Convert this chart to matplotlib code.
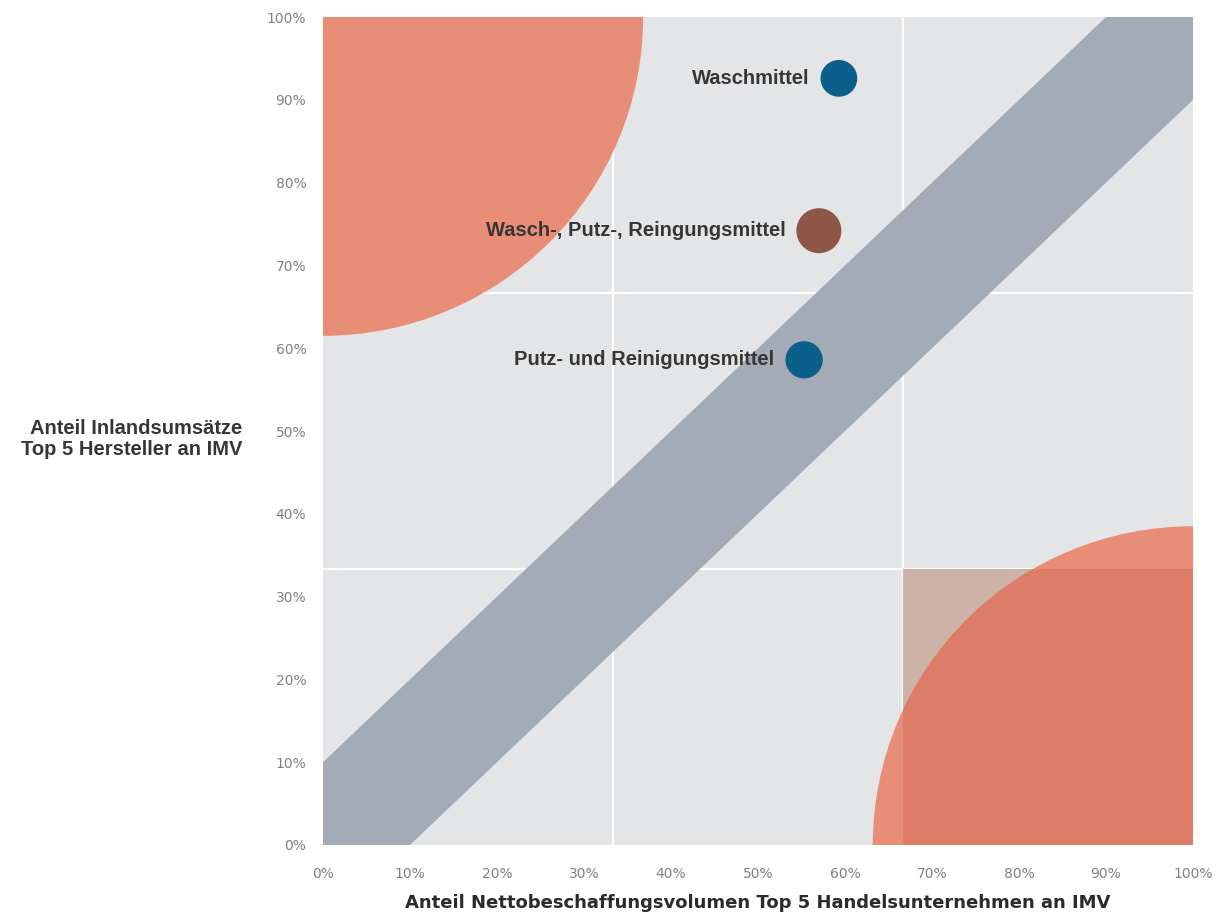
import matplotlib
matplotlib.use('Agg')
from matplotlib import pyplot as plt
from matplotlib.patches import Ellipse, Rectangle
import numpy as np

# data (percent)
names = ['Waschmittel', 'Wasch-, Putz-, Reingungsmittel', 'Putz- und Reinigungsmittel']
x_share = [59.3, 57.0, 55.3]
y_share = [92.6, 74.2, 58.6]
dot_colors = ['#0b5f8a', '#8d5646', '#0b5f8a']
dot_sizes = [700, 1050, 720]

ticks = [0, 10, 20, 30, 40, 50, 60, 70, 80, 90, 100]
tick_labels = [f'{t}%' for t in ticks]
grid_lines = [100 / 3, 200 / 3]
band_half = 10
corner_r_x = 36.8
corner_r_y = 38.5

bg = '#e4e5e7'
band_col = '#a3abb7'
salmon = '#e88d76'
salmon_dark = '#dd7c67'
tan = '#cdb2a7'

fig = plt.figure(figsize=(12.28, 9.24), dpi=100)
ax = fig.add_axes([0.263, 0.0855, 0.7085, 0.896])
ax.set_facecolor(bg)
ax.set_xlim(0, 100)
ax.set_ylim(0, 100)
for s in ax.spines.values():
    s.set_visible(False)

for g in grid_lines:
    ax.axvline(g, color='white', lw=1.6, zorder=1)
    ax.axhline(g, color='white', lw=1.6, zorder=1)

# diagonal band
xb = np.array([0, 100])
ax.fill_between(xb, xb - band_half, xb + band_half, color=band_col, lw=0, zorder=2)

# upper left quarter circle
ax.add_patch(Ellipse((0, 100), 2 * corner_r_x, 2 * corner_r_y, color=salmon, lw=0, zorder=2))

# lower right: rect + circle, darker where they overlap
rect = Rectangle((grid_lines[1], 0), 100 - grid_lines[1], grid_lines[0], color=tan, lw=0, zorder=2)
ax.add_patch(rect)
ax.add_patch(Ellipse((100, 0), 2 * corner_r_x, 2 * corner_r_y, color=salmon, lw=0, zorder=3))
inner = Ellipse((100, 0), 2 * corner_r_x, 2 * corner_r_y, color=salmon_dark, lw=0, zorder=4)
ax.add_patch(inner)
clip = Rectangle((grid_lines[1], 0), 100 - grid_lines[1], grid_lines[0], transform=ax.transData)
inner.set_clip_path(clip)

# dots
ax.scatter(x_share, y_share, s=dot_sizes, c=dot_colors, lw=0, zorder=5)
for n, xv, yv, sz in zip(names, x_share, y_share, dot_sizes):
    r = np.sqrt(sz) / 2
    ax.annotate(n, (xv, yv), xytext=(-r - 8, 0), textcoords='offset points',
                ha='right', va='center', fontsize=14.5, fontweight='bold',
                color='#363636', family=['Liberation Sans', 'DejaVu Sans'], zorder=6)

ax.set_xticks(ticks)
ax.set_xticklabels(tick_labels)
ax.set_yticks(ticks)
ax.set_yticklabels(tick_labels)
ax.tick_params(length=0, labelsize=10, labelcolor='#808080')
ax.tick_params(axis='x', pad=16)
ax.tick_params(axis='y', pad=12)
for lab in ax.get_xticklabels() + ax.get_yticklabels():
    lab.set_family(['Liberation Sans Narrow', 'DejaVu Sans'])

ax.text(-0.093, 0.49, 'Anteil Inlandsumsätze\nTop 5 Hersteller an IMV', transform=ax.transAxes,
        ha='right', va='center', multialignment='right', fontsize=14.5, fontweight='bold',
        color='#363636', family=['Liberation Sans', 'DejaVu Sans'], linespacing=1.12)
ax.text(0.5, -0.07, 'Anteil Nettobeschaffungsvolumen Top 5 Handelsunternehmen an IMV',
        transform=ax.transAxes, ha='center', va='center', fontsize=13, fontweight='bold',
        color='#2b2b2b', family=['Liberation Sans Narrow', 'DejaVu Sans'])

fig.savefig('out.png', dpi=100, facecolor='white')
